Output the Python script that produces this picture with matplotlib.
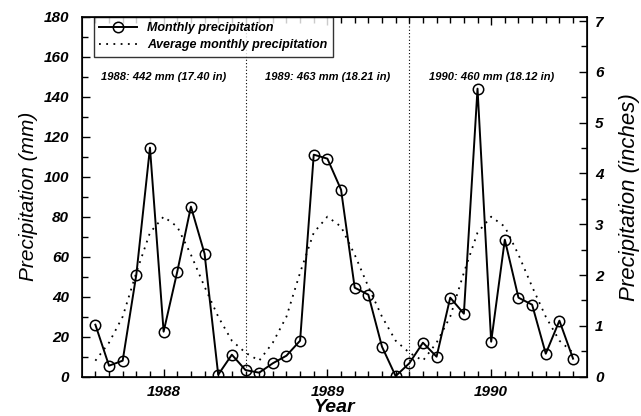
import numpy as np
import matplotlib.pyplot as plt
from matplotlib.ticker import MultipleLocator, FixedLocator

# Monthly precipitation (mm), Aug 1987 - Jul 1990
precip_mm = [26, 5.5, 8, 51, 114.5, 22.5, 52.5, 85, 61.5, 1, 11, 3.3,
             2, 6.7, 10.5, 18, 111, 109, 93.5, 44.5, 41, 15, 0.3, 6.7,
             17, 10, 39.5, 31.5, 144, 17.5, 68.5, 39.5, 36, 11.5, 28, 9]

# Average monthly precipitation (mm), Aug..Jul
avg_month_mm = [8, 17, 30, 52, 72, 80, 75, 61, 45, 30, 18, 12]

year_labels = ["1988", "1989", "1990"]
year_ticks = [5, 17, 29]          # January of each year
year_breaks = [11, 23]            # July
totals = ["1988: 442 mm (17.40 in)",
          "1989: 463 mm (18.21 in)",
          "1990: 460 mm (18.12 in)"]

MM_PER_IN = 25.4

plt.rcParams['font.family'] = ['Liberation Sans', 'DejaVu Sans']

months = np.arange(len(precip_mm))
avg_mm = avg_month_mm * 3

fig = plt.figure(figsize=(6.41, 4.16), dpi=100)
ax = fig.add_axes([0.1275, 0.0945, 0.7878, 0.8655])

for xb in year_breaks:
    ax.axvline(xb, color="black", lw=0.8, ls=(0, (1, 2)), zorder=1)

ax.plot(months, precip_mm, color="black", lw=1.4, marker="o", ms=7.5,
        mfc="none", mec="black", mew=1.1, label="Monthly precipitation",
        zorder=3)
ax.plot(months, avg_mm, color="black", lw=1.3, ls=(0, (1, 3)),
        label="Average monthly precipitation", zorder=2)

for xt, txt in zip(year_ticks, totals):
    ax.text(xt, 150, txt, ha="center", va="center", fontsize=8,
            fontweight="bold", style="italic")

ax.set_xlim(-1, 36)
ax.set_ylim(0, 180)
ax.xaxis.set_major_locator(FixedLocator(year_ticks))
ax.xaxis.set_minor_locator(FixedLocator(months))
ax.set_xticklabels(year_labels)
ax.yaxis.set_major_locator(MultipleLocator(20))
ax.yaxis.set_minor_locator(MultipleLocator(10))

ax.tick_params(which="both", direction="in", top=True, right=False,
               width=1)
ax.tick_params(which="major", length=6)
ax.tick_params(which="minor", length=4)
ax.tick_params(axis="y", which="major", pad=9)
ax.tick_params(axis="x", which="major", pad=6)
for lab in ax.get_xticklabels() + ax.get_yticklabels():
    lab.set_fontweight("bold")
    lab.set_style("italic")
    lab.set_fontsize(11)
for sp in ax.spines.values():
    sp.set_linewidth(1.2)

ax.set_ylabel("Precipitation (mm)", fontsize=15, style="italic", labelpad=4)
ax.set_xlabel("Year", fontsize=14, style="italic", fontweight="bold",
              labelpad=0)

ax2 = ax.twinx()
ax2.set_ylim(0, 180 / MM_PER_IN)
ax2.yaxis.set_major_locator(MultipleLocator(1))
ax2.yaxis.set_minor_locator(MultipleLocator(0.5))
ax2.tick_params(which="both", direction="in", width=1)
ax2.tick_params(which="major", length=6, pad=6)
ax2.tick_params(which="minor", length=4)
for lab in ax2.get_yticklabels():
    lab.set_fontweight("bold")
    lab.set_style("italic")
    lab.set_fontsize(11)
ax2.set_ylabel("Precipitation (inches)", fontsize=16, style="italic",
               labelpad=11)

leg = ax.legend(loc="upper left", bbox_to_anchor=(0.024, 1.0),
                borderaxespad=0,
                prop={"weight": "bold", "style": "italic", "size": 9},
                frameon=True, fancybox=False, edgecolor="black",
                handlelength=3, borderpad=0.45, labelspacing=0.4)
leg.get_frame().set_linewidth(1.0)

fig.savefig("out.png", dpi=100)
